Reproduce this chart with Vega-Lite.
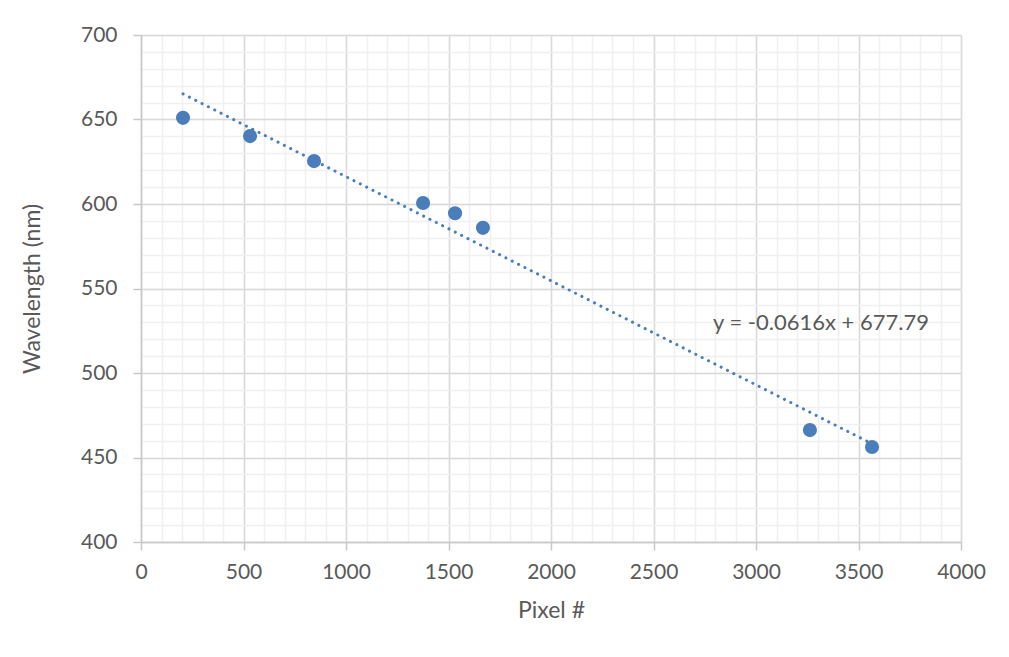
{
  "$schema": "https://vega.github.io/schema/vega-lite/v6.json",
  "autosize": {"type": "none"},
  "width": 820,
  "height": 507,
  "padding": {"left": 141, "top": 35, "right": 48, "bottom": 115},
  "background": "white",
  "config": {"view": {"stroke": null}, "font": "Lato"},
  "datasets": {
    "points": [
      {"pixel": 205, "wavelength": 651},
      {"pixel": 532, "wavelength": 640.2},
      {"pixel": 844, "wavelength": 625.4},
      {"pixel": 1376, "wavelength": 600.6},
      {"pixel": 1532, "wavelength": 594.5},
      {"pixel": 1668, "wavelength": 585.9},
      {"pixel": 3263, "wavelength": 466.2},
      {"pixel": 3566, "wavelength": 456.2}
    ],
    "trend": [
      {"pixel": 205, "wavelength": 665.16},
      {"pixel": 3566, "wavelength": 458.12}
    ],
    "label": [
      {"pixel": 2790, "wavelength": 529.5, "text": "y = -0.0616x + 677.79"}
    ]
  },
  "resolve": {"axis": {"x": "independent", "y": "independent"}},
  "layer": [
    {
      "data": {"name": "trend"},
      "mark": {"type": "line", "color": "#4a7ebb", "strokeWidth": 3, "strokeDash": [0.1, 7], "strokeCap": "round"},
      "encoding": {
        "x": {"field": "pixel", "type": "quantitative",
          "scale": {"domain": [0, 4000], "nice": false, "zero": false},
          "axis": {"orient": "bottom", "values": [0,100,200,300,400,500,600,700,800,900,1000,1100,1200,1300,1400,1500,1600,1700,1800,1900,2000,2100,2200,2300,2400,2500,2600,2700,2800,2900,3000,3100,3200,3300,3400,3500,3600,3700,3800,3900,4000],
            "grid": true, "gridColor": "#f0f0f0", "gridWidth": 1.5, "labels": false, "ticks": false, "domain": false, "title": null}},
        "y": {"field": "wavelength", "type": "quantitative",
          "scale": {"domain": [400, 700], "nice": false, "zero": false},
          "axis": {"orient": "left", "values": [400,410,420,430,440,450,460,470,480,490,500,510,520,530,540,550,560,570,580,590,600,610,620,630,640,650,660,670,680,690,700],
            "grid": true, "gridColor": "#f0f0f0", "gridWidth": 1.5, "labels": false, "ticks": false, "domain": false, "title": null}}
      }
    },
    {
      "data": {"name": "points"},
      "mark": {"type": "circle", "color": "#4a7ebb", "opacity": 1, "size": 200},
      "encoding": {
        "x": {"field": "pixel", "type": "quantitative",
          "scale": {"domain": [0, 4000], "nice": false, "zero": false},
          "axis": {"orient": "bottom", "values": [0,500,1000,1500,2000,2500,3000,3500,4000], "format": "d", "labelFlush": false,
            "grid": true, "gridColor": "#d9d9d9", "gridWidth": 1.5,
            "domainColor": "#c8c8c8", "domainWidth": 1.5, "tickColor": "#c8c8c8", "tickWidth": 1.5, "tickSize": 8,
            "labelColor": "#595959", "labelFontSize": 21, "labelPadding": 11, "labelFont": "Lato",
            "title": "Pixel #", "titleColor": "#595959", "titleFontSize": 23, "titleFontWeight": "normal", "titleFont": "Lato", "titlePadding": 17}},
        "y": {"field": "wavelength", "type": "quantitative",
          "scale": {"domain": [400, 700], "nice": false, "zero": false},
          "axis": {"orient": "left", "values": [400,450,500,550,600,650,700], "format": "d", "labelFlush": false,
            "grid": true, "gridColor": "#d9d9d9", "gridWidth": 1.5,
            "domainColor": "#c8c8c8", "domainWidth": 1.5, "tickColor": "#c8c8c8", "tickWidth": 1.5, "tickSize": 8,
            "labelColor": "#595959", "labelFontSize": 21, "labelPadding": 16, "labelFont": "Lato",
            "title": "Wavelength (nm)", "titleColor": "#595959", "titleFontSize": 23, "titleFontWeight": "normal", "titleFont": "Lato", "titlePadding": 36}}
      }
    },
    {
      "data": {"name": "label"},
      "mark": {"type": "text", "align": "left", "baseline": "middle", "fontSize": 22, "color": "#595959", "font": "Lato"},
      "encoding": {
        "x": {"field": "pixel", "type": "quantitative", "axis": null},
        "y": {"field": "wavelength", "type": "quantitative", "axis": null},
        "text": {"field": "text"}
      }
    }
  ]
}
